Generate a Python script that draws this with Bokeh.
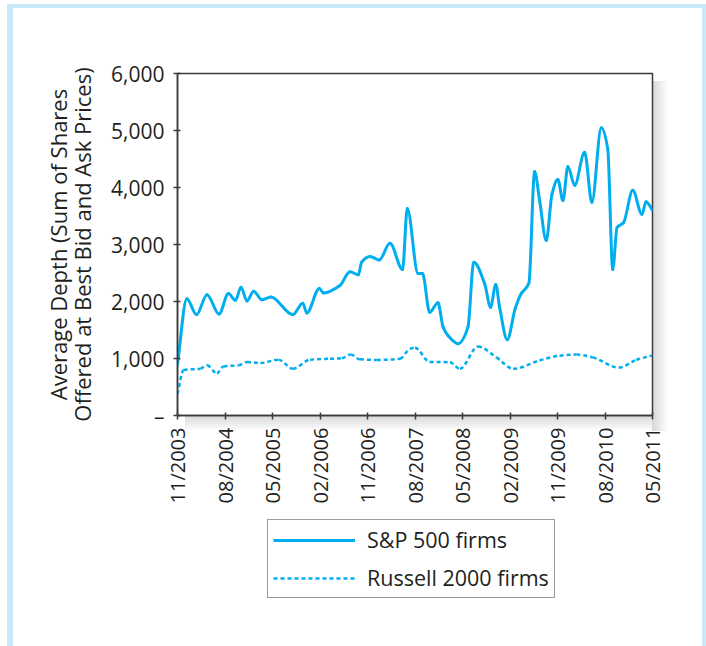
import calendar
from math import pi
from bokeh.plotting import figure
from bokeh.layouts import column
from bokeh.models import (ColumnDataSource, FixedTicker, NumeralTickFormatter, Legend,
                          LegendItem, Range1d)
from bokeh.embed import file_html
from bokeh.resources import INLINE

# ---------------- data ----------------
sp_dates = ["2003-11-01", "2003-12-25", "2004-02-18", "2004-04-19", "2004-06-27", "2004-08-21",
            "2004-09-30", "2004-11-02", "2004-12-06", "2005-01-14", "2005-03-01", "2005-04-22",
            "2005-08-27", "2005-10-24", "2005-11-16", "2006-01-28", "2006-02-20", "2006-05-25",
            "2006-07-22", "2006-09-09", "2006-09-28", "2006-11-15", "2007-01-08", "2007-03-09",
            "2007-05-21", "2007-06-17", "2007-08-19", "2007-09-14", "2007-10-25", "2007-12-12",
            "2008-01-11", "2008-02-09", "2008-04-06", "2008-06-02", "2008-07-05", "2008-09-07",
            "2008-10-11", "2008-11-10", "2008-12-02", "2009-01-16", "2009-02-28", "2009-04-05",
            "2009-05-19", "2009-06-21", "2009-07-20", "2009-08-28", "2009-09-30", "2009-11-03",
            "2009-12-02", "2009-12-31", "2010-02-08", "2010-04-05", "2010-05-17", "2010-07-10",
            "2010-08-17", "2010-09-15", "2010-10-10", "2010-11-16", "2011-01-09", "2011-03-01",
            "2011-03-25", "2011-05-01"]
sp_values = [900, 2050, 1770, 2120, 1780, 2140,
             2020, 2250, 2010, 2180, 2030, 2080,
             1770, 1970, 1800, 2230, 2150, 2280,
             2520, 2470, 2690, 2790, 2730, 3020,
             2560, 3630, 2490, 2490, 1810, 1980,
             1550, 1400, 1260, 1550, 2690, 2310,
             1900, 2300, 1900, 1330, 1870, 2140,
             2320, 4280, 3770, 3070, 3890, 4140,
             3770, 4370, 4040, 4620, 3740, 5050,
             4680, 2560, 3300, 3380, 3950, 3530,
             3750, 3600]

ru_dates = ["2003-11-01", "2003-12-06", "2004-03-11", "2004-04-19", "2004-06-15", "2004-07-23",
            "2004-10-18", "2004-12-06", "2005-02-21", "2005-06-05", "2005-08-27", "2005-12-05",
            "2006-03-29", "2006-06-05", "2006-07-26", "2006-09-18", "2006-12-24", "2007-05-06",
            "2007-07-02", "2007-08-01", "2007-10-25", "2008-02-19", "2008-04-16", "2008-07-30",
            "2008-11-14", "2009-02-18", "2009-07-20", "2009-11-13", "2010-02-17", "2010-05-22",
            "2010-10-20", "2011-01-29", "2011-05-01"]
ru_values = [380, 800, 820, 880, 740, 860,
             880, 940, 920, 980, 820, 980,
             995, 1005, 1070, 985, 975, 995,
             1170, 1190, 940, 935, 820, 1210,
             1020, 820, 965, 1050, 1070, 1020,
             840, 975, 1055]

tick_labels = ["11/2003", "08/2004", "05/2005", "02/2006", "11/2006", "08/2007",
               "05/2008", "02/2009", "11/2009", "08/2010", "05/2011"]
y_ticks = [0, 1000, 2000, 3000, 4000, 5000, 6000]
series_names = ["S&P 500 firms", "Russell 2000 firms"]
y_title = ["Average Depth (Sum of Shares", "Offered at Best Bid and Ask Prices)"]


def to_month(s):
    y, m, d = (int(v) for v in s.split("-"))
    return (y - 2003) * 12 + (m - 11) + (d - 1) / calendar.monthrange(y, m)[1]


def label_to_month(lbl):
    mm, yy = lbl.split("/")
    return (int(yy) - 2003) * 12 + (int(mm) - 11)


def smooth_segments(xs, ys):
    """Monotone cubic (Fritsch-Carlson) Bezier segments through the data points,
    used only to draw the curve smoothly like the original."""
    n = len(xs)
    h = [xs[i + 1] - xs[i] for i in range(n - 1)]
    d = [(ys[i + 1] - ys[i]) / h[i] for i in range(n - 1)]
    m = [0.0] * n
    m[0], m[-1] = d[0], d[-1]
    for i in range(1, n - 1):
        if d[i - 1] * d[i] <= 0:
            m[i] = 0.0
        else:
            w1, w2 = 2 * h[i] + h[i - 1], h[i] + 2 * h[i - 1]
            m[i] = (w1 + w2) / (w1 / d[i - 1] + w2 / d[i])
    seg = dict(x0=[], y0=[], x1=[], y1=[], cx0=[], cy0=[], cx1=[], cy1=[])
    for i in range(n - 1):
        seg["x0"].append(xs[i]); seg["y0"].append(ys[i])
        seg["x1"].append(xs[i + 1]); seg["y1"].append(ys[i + 1])
        seg["cx0"].append(xs[i] + h[i] / 3); seg["cy0"].append(ys[i] + m[i] * h[i] / 3)
        seg["cx1"].append(xs[i + 1] - h[i] / 3); seg["cy1"].append(ys[i + 1] - m[i + 1] * h[i] / 3)
    return seg


x_ticks = [label_to_month(t) for t in tick_labels]
sp_x = [to_month(d) for d in sp_dates]
ru_x = [to_month(d) for d in ru_dates]

sp_src = ColumnDataSource(dict(x=sp_x, y=sp_values))
ru_src = ColumnDataSource(dict(x=ru_x, y=ru_values))
sp_seg = ColumnDataSource(smooth_segments(sp_x, sp_values))
ru_seg = ColumnDataSource(smooth_segments(ru_x, ru_values))

# ---------------- styling constants ----------------
FONT = "Open Sans"
TXT = "#231f20"
CYAN = "#00aeef"
BLUE = "#c8e9f8"
EDGE = "#3a3a3a"
W = 706
H_MAIN, H_LEG = 515, 131
FL, FR, FT, FB = 177, 652, 73, 415   # frame edges in page pixels

page_css = {
    "background": (
        f"linear-gradient(to right, rgba(0,0,0,0.16), rgba(0,0,0,0)) {FR}px {FT + 8}px / 16px {FB - FT + 8}px no-repeat, "
        f"linear-gradient(to bottom, rgba(0,0,0,0.16), rgba(0,0,0,0)) {FL + 8}px {FB}px / {FR - FL - 8}px 16px no-repeat, "
        "white"
    ),
    "box-shadow": f"inset 7px 4px 0 0 white, inset 13px 8px 0 0 {BLUE}, inset -4px 0 0 0 {BLUE}",
}

# ---------------- main chart ----------------
p = figure(width=W, height=H_MAIN, output_backend="svg", toolbar_location=None,
           x_range=Range1d(x_ticks[0], x_ticks[-1]), y_range=Range1d(0, 6000),
           min_border_left=FL, min_border_right=W - FR, min_border_top=FT,
           min_border_bottom=H_MAIN - FB)
p.background_fill_color = "white"
p.border_fill_alpha = 0.0
p.outline_line_color = EDGE
p.outline_line_width = 1.5
p.grid.visible = False

for ax in (p.xaxis[0], p.yaxis[0]):
    ax.axis_line_color = EDGE
    ax.axis_line_width = 1.5
    ax.major_tick_line_color = EDGE
    ax.major_tick_line_width = 1.5
    ax.major_tick_in = 3
    ax.major_tick_out = 4
    ax.minor_tick_line_color = None
    ax.major_label_text_font = FONT
    ax.major_label_text_color = TXT

p.xaxis.major_label_text_font_size = "20px"
p.yaxis.major_label_text_font_size = "21px"

p.xaxis.ticker = FixedTicker(ticks=x_ticks)
p.xaxis.major_label_overrides = {t: l for t, l in zip(x_ticks, tick_labels)}
p.xaxis.major_label_orientation = pi / 2
p.xaxis.major_label_standoff = 8

p.yaxis.ticker = FixedTicker(ticks=y_ticks)
p.yaxis.formatter = NumeralTickFormatter(format="0,0")
p.yaxis.major_label_overrides = {0: "–"}
p.yaxis.major_label_standoff = 9
p.yaxis.axis_label = "\n".join(y_title)
p.yaxis.axis_label_text_font = FONT
p.yaxis.axis_label_text_font_size = "22px"
p.yaxis.axis_label_text_font_style = "normal"
p.yaxis.axis_label_text_color = TXT
p.yaxis.axis_label_text_line_height = 0.8
p.yaxis.axis_label_standoff = 11

p.bezier(x0="x0", y0="y0", x1="x1", y1="y1", cx0="cx0", cy0="cy0", cx1="cx1", cy1="cy1",
         source=sp_seg, line_color=CYAN, line_width=3, line_cap="round")
p.bezier(x0="x0", y0="y0", x1="x1", y1="y1", cx0="cx0", cy0="cy0", cx1="cx1", cy1="cy1",
         source=ru_seg, line_color=CYAN, line_width=2.5, line_dash="4 3")

# ---------------- legend strip ----------------
# the series are re-drawn here outside the visible ranges only to feed the legend
q = figure(width=W, height=H_LEG, output_backend="svg", toolbar_location=None,
           x_range=Range1d(-2, -1), y_range=Range1d(-2, -1),
           min_border_left=0, min_border_right=0, min_border_top=0, min_border_bottom=0)
q.axis.visible = False
q.grid.visible = False
q.outline_line_color = None
q.background_fill_alpha = 0.0
q.border_fill_alpha = 0.0
k_sp = q.line("x", "y", source=sp_src, line_color=CYAN, line_width=3)
k_ru = q.line("x", "y", source=ru_src, line_color=CYAN, line_width=2.5, line_dash="4 3")

legend = Legend(items=[LegendItem(label=series_names[0], renderers=[k_sp]),
                       LegendItem(label=series_names[1], renderers=[k_ru])],
                location=(267 - FL, H_LEG - (598 - H_MAIN)), orientation="vertical",
                glyph_width=82, glyph_height=20, label_height=20, label_standoff=12,
                padding=5, spacing=9, margin=0,
                label_text_font=FONT, label_text_font_size="21.5px", label_text_color=TXT,
                border_line_color=EDGE, border_line_width=1.5,
                background_fill_color="white", background_fill_alpha=1.0)
q.add_layout(legend)

page = column(p, q, spacing=0, styles=page_css)
open("out.html", "w").write(file_html(page, INLINE))
